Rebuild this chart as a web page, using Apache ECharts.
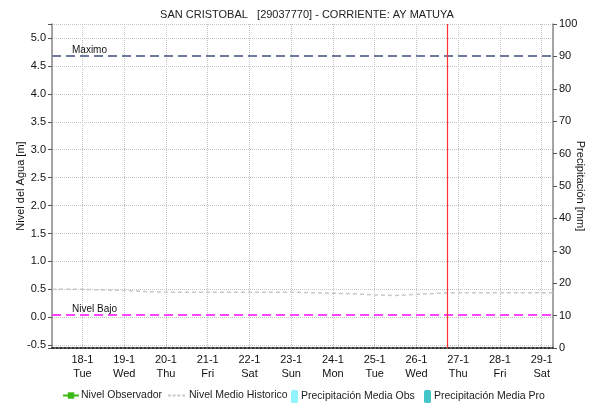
<!DOCTYPE html>
<html>
<head>
<meta charset="utf-8">
<script src="https://cdn.jsdelivr.net/npm/echarts@6/dist/echarts.min.js"></script>
<style>
  html, body { margin: 0; padding: 0; background: #fff; }
  #chart { width: 590px; height: 405px; }
</style>
</head>
<body>
<div id="chart"></div>
<script>
// Station and reference levels
const titleText = 'SAN CRISTOBAL   [29037770] - CORRIENTE: AY MATUYA';
const nivelMaximo = 4.68;
const nivelBajo = 0.04;
const ahora = '2022-01-26 17:40';

// Time window of the chart
const xStart = '2022-01-17 06:30';
const xEnd = '2022-01-29 06:30';

// Historic mean water level (m)
const histTimes = [
  '2022-01-17 06:30', '2022-01-18 00:00', '2022-01-18 12:00', '2022-01-19 00:00',
  '2022-01-19 12:00', '2022-01-20 00:00', '2022-01-21 00:00', '2022-01-22 00:00',
  '2022-01-23 00:00', '2022-01-23 12:00', '2022-01-24 00:00', '2022-01-24 12:00',
  '2022-01-25 00:00', '2022-01-25 12:00', '2022-01-26 00:00', '2022-01-26 12:00',
  '2022-01-27 00:00', '2022-01-28 00:00', '2022-01-29 06:30'
];
const histValues = [
  0.50, 0.50, 0.49, 0.48,
  0.46, 0.45, 0.45, 0.45,
  0.45, 0.44, 0.43, 0.42,
  0.40, 0.39, 0.41, 0.43,
  0.44, 0.44, 0.44
];

// Observed level and precipitation (no records in this window)
const obsTimes = [];
const obsValues = [];
const precipObsTimes = [];
const precipObsValues = [];
const precipProTimes = [];
const precipProValues = [];

// Axis ranges
const levelMin = -0.55, levelMax = 5.25;
const precipMin = 0, precipMax = 100, precipStep = 10;

const weekDays = ['Sun', 'Mon', 'Tue', 'Wed', 'Thu', 'Fri', 'Sat'];

function toUTC(s) {
  const [d, t] = s.split(' ');
  const [y, m, dd] = d.split('-').map(Number);
  const [hh, mm] = t.split(':').map(Number);
  return Date.UTC(y, m - 1, dd, hh, mm);
}
function pairs(times, values) {
  return times.map((t, i) => [toUTC(t), values[i]]);
}

const chart = echarts.init(document.getElementById('chart'), null, { renderer: 'canvas' });
const baseFont = 'Arial, "Liberation Sans", sans-serif';
const gridLine = { show: true, lineStyle: { color: '#c4c4c4', type: 'dotted', width: 1 } };
const legendText = { fontSize: 10.5, color: '#222', fontFamily: baseFont };

// short dashes used as the legend key of the historic mean line
const dashIcon = 'path://M0,0h3v2h-3z M5,0h3v2h-3z M10,0h3v2h-3z M15,0h3v2h-3z';

function legendAt(item, left, w, h, pad) {
  return {
    data: [item], left: left, top: 390, padding: 0,
    itemWidth: w, itemHeight: h,
    textStyle: Object.assign({ padding: [0, 0, 0, pad] }, legendText)
  };
}

chart.setOption({
  useUTC: true,
  animation: false,
  backgroundColor: '#ffffff',
  textStyle: { fontFamily: baseFont },
  title: {
    text: titleText,
    left: 302,
    top: 4,
    textAlign: 'center',
    textStyle: { fontSize: 11, fontWeight: 'normal', color: '#222', fontFamily: baseFont }
  },
  grid: { left: 52, right: 37, top: 24, bottom: 57, containLabel: false, outerBoundsMode: 'none' },
  legend: [
    legendAt('Nivel Observador', 62, 16, 8, -3),
    legendAt({ name: 'Nivel Medio Historico', icon: dashIcon, itemStyle: { color: '#c8c8c8' } }, 168, 17, 2, -1),
    legendAt('Precipitación Media Obs', 291, 7, 13, -2),
    legendAt('Precipitación Media Pro', 424, 7, 13, -2)
  ],
  xAxis: [
    {
      type: 'time',
      min: toUTC(xStart),
      max: toUTC(xEnd),
      splitNumber: 12,
      axisLine: { show: true, onZero: false, lineStyle: { color: '#333', width: 2, type: 'dotted' } },
      axisTick: { show: false },
      splitLine: gridLine,
      axisLabel: {
        color: '#111', fontSize: 11, lineHeight: 14, margin: 5,
        hideOverlap: false,
        formatter: function (v) {
          const d = new Date(v);
          return d.getUTCDate() + '-' + (d.getUTCMonth() + 1) + '\n' + weekDays[d.getUTCDay()];
        }
      }
    },
    {
      // hidden twin axis carrying the precipitation bars
      type: 'time',
      min: toUTC(xStart),
      max: toUTC(xEnd),
      show: false
    }
  ],
  yAxis: [
    {
      type: 'value',
      min: levelMin,
      max: levelMax,
      splitNumber: 12,
      name: 'Nivel del Agua [m]',
      nameLocation: 'middle',
      nameGap: 26,
      nameMoveOverlap: false,
      nameTextStyle: { fontSize: 11, color: '#111', fontFamily: baseFont },
      axisLine: { show: true, lineStyle: { color: '#8a8a8a', width: 1.5 } },
      axisTick: { show: true, length: 4, lineStyle: { color: '#555' } },
      axisLabel: {
        color: '#111', fontSize: 11, margin: 6,
        formatter: function (v) {
          const r = Math.round(v * 2) / 2;
          return Math.abs(r - v) < 1e-6 ? r.toFixed(1) : '';
        }
      },
      splitLine: gridLine
    },
    {
      type: 'value',
      min: precipMin,
      max: precipMax,
      interval: precipStep,
      name: 'Precipitación [mm]',
      nameLocation: 'middle',
      nameRotate: -90,
      nameGap: 22,
      nameMoveOverlap: false,
      nameTextStyle: { fontSize: 11, color: '#111', fontFamily: baseFont },
      axisLine: { show: true, lineStyle: { color: '#8a8a8a', width: 1.5 } },
      axisTick: { show: true, length: 4, lineStyle: { color: '#555' } },
      axisLabel: { color: '#111', fontSize: 11, margin: 6 },
      splitLine: { show: false }
    }
  ],
  series: [
    {
      name: 'Nivel Observador',
      type: 'line',
      xAxisIndex: 0,
      yAxisIndex: 0,
      data: pairs(obsTimes, obsValues),
      symbol: 'rect',
      symbolSize: 4,
      itemStyle: { color: '#3cb814' },
      lineStyle: { color: '#3cb814', width: 1.5 },
      markLine: {
        silent: true,
        symbol: ['none', 'none'],
        data: [
          {
            yAxis: nivelMaximo,
            lineStyle: { color: '#6e7a9c', type: [9, 5], width: 2 },
            label: { show: true, formatter: 'Maximo', position: 'insideStartTop', distance: [20, 1], color: '#111', fontSize: 10 }
          },
          {
            yAxis: nivelBajo,
            lineStyle: { color: '#ff44ff', type: [9, 5], width: 2 },
            label: { show: true, formatter: 'Nivel Bajo', position: 'insideStartTop', distance: [20, 1], color: '#111', fontSize: 10 }
          }
        ]
      }
    },
    {
      name: 'Nivel Medio Historico',
      type: 'line',
      xAxisIndex: 0,
      yAxisIndex: 0,
      data: pairs(histTimes, histValues),
      showSymbol: false,
      symbol: 'none',
      itemStyle: { color: '#c8c8c8' },
      lineStyle: { color: '#c8c8c8', type: [4, 3], width: 1.5 },
      markLine: {
        silent: true,
        symbol: ['none', 'none'],
        lineStyle: { color: '#ff3030', type: 'solid', width: 1.2 },
        label: { show: false },
        data: [{ xAxis: toUTC(ahora) }]
      }
    },
    {
      name: 'Precipitación Media Obs',
      type: 'bar',
      xAxisIndex: 1,
      yAxisIndex: 1,
      data: pairs(precipObsTimes, precipObsValues),
      itemStyle: { color: '#8ff4fb' }
    },
    {
      name: 'Precipitación Media Pro',
      type: 'bar',
      xAxisIndex: 1,
      yAxisIndex: 1,
      data: pairs(precipProTimes, precipProValues),
      itemStyle: { color: '#45c6c6' }
    }
  ]
});
</script>
</body>
</html>
